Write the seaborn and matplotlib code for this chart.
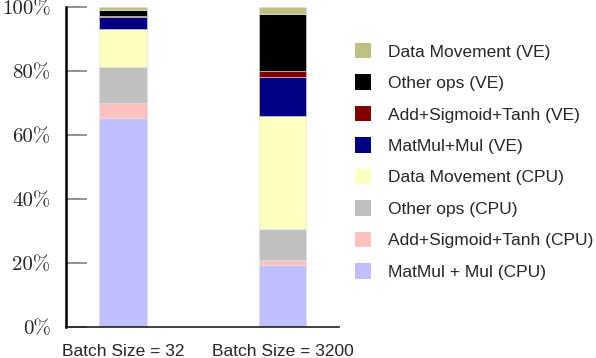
import matplotlib

matplotlib.use("Agg")
import matplotlib.pyplot as plt
import seaborn as sns
import numpy as np
import pandas as pd
from matplotlib.patches import Patch

# stacking order, bottom to top
categories = ["Batch Size = 32", "Batch Size = 3200"]
components = [
    "MatMul + Mul (CPU)",
    "Add+Sigmoid+Tanh (CPU)",
    "Other ops (CPU)",
    "Data Movement (CPU)",
    "MatMul+Mul (VE)",
    "Add+Sigmoid+Tanh (VE)",
    "Other ops (VE)",
    "Data Movement (VE)",
]
share_bs32 = [65.4, 4.5, 11.3, 11.8, 3.9, 0.3, 1.8, 1.0]
share_bs3200 = [19.4, 1.5, 9.6, 35.4, 12.1, 2.1, 17.6, 2.3]
colors = ["#C0C0FF", "#FFC0C0", "#C0C0C0", "#FFFFC0",
          "#000080", "#800000", "#000000", "#C0C080"]
y_ticks = [0, 20, 40, 60, 80, 100]


def main() -> None:
    sns.set_style("white")
    plt.rcParams["font.family"] = ["Liberation Sans", "DejaVu Sans"]

    df = pd.DataFrame({"component": components,
                       categories[0]: share_bs32,
                       categories[1]: share_bs3200})

    fig = plt.figure(figsize=(5.96, 3.58), dpi=100)
    ax = fig.add_axes([66 / 596, 31 / 358, 273 / 596, 320 / 358])

    bottom = np.zeros(len(categories))
    for comp, color in zip(components, colors):
        vals = df.loc[df["component"] == comp, categories].to_numpy().ravel()
        sns.barplot(x=categories, y=vals, bottom=bottom, color=color, saturation=1,
                    width=0.30, edgecolor="#E0E0E0", linewidth=0.4, ax=ax)
        bottom = bottom + vals

    ax.set_xlim(-0.357, 1.354)
    ax.set_ylim(0, 100)
    ax.set_yticks(y_ticks)
    ax.set_yticklabels([f"{t}%" for t in y_ticks], fontfamily="cmr10", fontsize=15)
    ax.tick_params(axis="y", direction="in", length=15, width=1.2,
                   color="#808080", pad=11, left=True)
    ax.tick_params(axis="x", length=0, labelsize=12.5, pad=12)

    for side in ["top", "right"]:
        ax.spines[side].set_visible(False)
    ax.spines["left"].set_linewidth(1.8)
    ax.spines["left"].set_color("black")
    ax.spines["bottom"].set_linewidth(1.2)
    ax.spines["bottom"].set_color("#202020")

    handles = [Patch(facecolor=c, edgecolor="none", label=l)
               for l, c in zip(components, colors)][::-1]
    fig.legend(handles=handles, loc="upper left", bbox_to_anchor=(341 / 596, 1 - 29 / 358),
               frameon=False, fontsize=12.5, handlelength=0.95, handleheight=1.0,
               handletextpad=0.95, labelspacing=0.85, borderpad=0.3)

    fig.savefig("out.png", dpi=100)
    plt.close(fig)


if __name__ == "__main__":
    main()
